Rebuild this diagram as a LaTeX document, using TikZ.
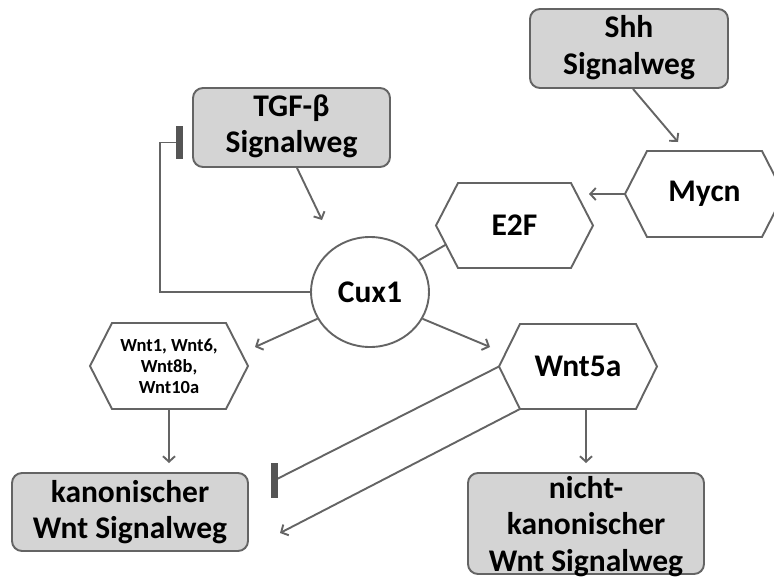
\documentclass[tikz,border=0pt]{standalone}
\usepackage{fontspec}
\setmainfont{Carlito}
\usetikzlibrary{arrows.meta,shapes.geometric,calc}

\definecolor{boxfill}{RGB}{212,212,212}
\definecolor{edgegray}{RGB}{100,100,100}
\definecolor{linkgray}{RGB}{100,100,100}
\definecolor{bargray}{RGB}{85,85,85}

% hexagon with flat top and bottom:
% name, cx, cy, half width, half height, inset, label style, label
\newcommand{\hexnode}[8]{%
  \coordinate (#1-w)  at ({#2-#4},{#3});
  \coordinate (#1-nw) at ({#2-#4+#6},{#3-#5});
  \coordinate (#1-ne) at ({#2+#4-#6},{#3-#5});
  \coordinate (#1-e)  at ({#2+#4},{#3});
  \coordinate (#1-se) at ({#2+#4-#6},{#3+#5});
  \coordinate (#1-sw) at ({#2-#4+#6},{#3+#5});
  \draw[hexline] (#1-w) -- (#1-nw) -- (#1-ne) -- (#1-e) -- (#1-se) -- (#1-sw) -- cycle;
  \node[hexlabel, #7] (#1) at (#2,#3) {#8};
}

\tikzset{
  bigfont/.style={font=\bfseries\fontsize{31.5}{36.5}\selectfont},
  smallfont/.style={font=\bfseries\fontsize{18.5}{21}\selectfont},
  graybox/.style={draw=edgegray, fill=boxfill, line width=1.9pt,
    rounded corners=10pt, inner sep=0pt},
  boxlabel/.style={bigfont, align=center, inner sep=0pt, text=black},
  hexline/.style={draw=edgegray, fill=white, line width=1.9pt, line join=miter},
  hexlabel/.style={bigfont, align=center, inner sep=0pt, text=black},
  hubnode/.style={ellipse, draw=edgegray, fill=white, line width=1.9pt,
    minimum width=118pt, minimum height=110pt, inner sep=0pt, bigfont},
  conn/.style={draw=linkgray, line width=1.9pt},
  arr/.style={conn, -{Straight Barb[length=5.5pt,width=12pt]}},
  inhibitbar/.style={draw=bargray, line width=7pt},
}

\begin{document}
\begin{tikzpicture}[x=1pt, y=-1pt]
  \clip (0,0) rectangle (774,576);
  \fill[white] (0,0) rectangle (774,576);

  % signalling pathway boxes
  \node[graybox, minimum width=197pt, minimum height=79pt] (tgf) at (291.5,127.5) {};
  \node[boxlabel] (tgftext) at ([yshift=1pt]tgf.center) {TGF-β\\Signalweg};
  \node[graybox, minimum width=198pt, minimum height=79pt] (shh) at (629,48.5) {};
  \node[boxlabel] (shhtext) at ([yshift=1pt]shh.center) {Shh\\Signalweg};
  \node[graybox, minimum width=236pt, minimum height=78pt] (kan) at (130,512) {};
  \node[boxlabel] (kantext) at (kan.center) {kanonischer\\Wnt Signalweg};
  \node[graybox, minimum width=236pt, minimum height=101pt] (nicht) at (586,523.5) {};
  \node[boxlabel] (nichttext) at ([yshift=-3pt]nicht.center) {nicht-\\kanonischer\\Wnt Signalweg};

  % gene hexagons
  \hexnode{mycn}{704.5}{194}{79.5}{43}{22}{}{Mycn}
  \hexnode{e2f}{514.5}{225.5}{78.5}{42.5}{22}{}{E2F}
  \hexnode{wnta}{169}{366}{79}{43}{22}{smallfont}{Wnt1, Wnt6,\\Wnt8b,\\Wnt10a}
  \hexnode{wntb}{578}{366.5}{79}{42.5}{21}{}{Wnt5a}

  % central transcription factor
  \node[hubnode] (cux) at (370,292) {Cux1};

  % free arrow ends
  \coordinate (tgftip) at (322,220);
  \coordinate (shhtip) at (678,142);
  \coordinate (e2ftip) at (589,194);
  \coordinate (wntatip) at (255,347);
  \coordinate (wntbtip) at (490,347);
  \coordinate (kantip) at (169,463);
  \coordinate (nichttip) at (586,463);
  \coordinate (kanlow) at (280,533);
  \coordinate (tgfbar) at (179,142.5);
  \coordinate (kanbar) at (274,480.5);

  % activating links
  \draw[arr] ([xshift=5.5pt]tgf.south) -- (tgftip);
  \draw[arr] ([xshift=4pt]shh.south) -- (shhtip);
  \draw[arr] (mycn-w) -- (e2ftip);
  \draw[conn] ($(e2f-w)!0.45!(e2f-sw)$) -- (cux.33);
  \draw[arr] (cux.207) -- (wntatip);
  \draw[arr] (cux.-27) -- (wntbtip);
  \draw[arr] ($(wnta-sw)!0.5!(wnta-se)$) -- (kantip);
  \draw[arr] (nichttip |- wntb-se) -- (nichttip);
  \draw[arr] (wntb-sw) -- (kanlow);

  % inhibiting links
  \draw[conn] (cux.west) -- ++(-150,0) |- (tgfbar);
  \draw[inhibitbar] ([yshift=16.5pt]tgfbar) -- ([yshift=-16.5pt]tgfbar);
  \draw[conn] (wntb-w) -- (kanbar);
  \draw[inhibitbar] ([yshift=17.5pt]kanbar) -- ([yshift=-17.5pt]kanbar);
\end{tikzpicture}
\end{document}
